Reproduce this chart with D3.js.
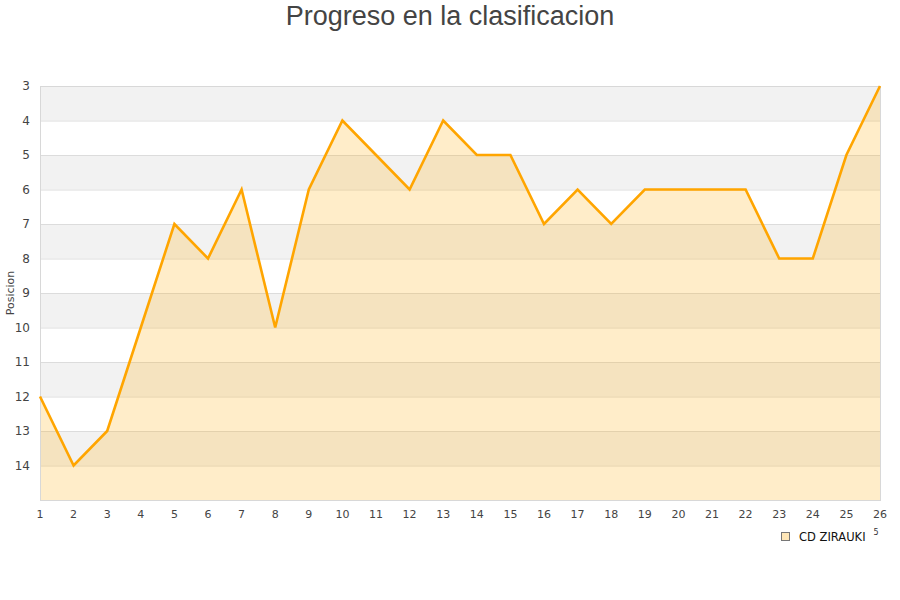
<!DOCTYPE html>
<html>
<head>
<meta charset="utf-8">
<script src="https://cdn.jsdelivr.net/npm/d3@7"></script>
<style>
  body { margin: 0; background: #fff; }
  svg { font-family: "DejaVu Sans", sans-serif; }
</style>
</head>
<body>
<svg id="chart" width="900" height="600"></svg>
<script>
// jornadas (x) and positions (y)
var jornadas = d3.range(1, 27);
var posiciones = [12, 14, 13, 10, 7, 8, 6, 10, 6, 4, 5, 6, 4, 5, 5, 7, 6, 7, 6, 6, 6, 6, 8, 8, 5, 3];
var yTicks = [3, 4, 5, 6, 7, 8, 9, 10, 11, 12, 13, 14];
var yDomain = [3, 15];
var teamName = 'CD ZIRAUKI';

var svg = d3.select('#chart');
var margin = { top: 86, right: 20, bottom: 100, left: 40 };
var width = 900 - margin.left - margin.right;
var height = 600 - margin.top - margin.bottom;

var x = d3.scaleLinear().domain([1, 26]).range([0, width]);
var y = d3.scaleLinear().domain(yDomain).range([0, height]);

svg.append('text')
  .attr('x', 450).attr('y', 25)
  .attr('text-anchor', 'middle')
  .style('font-family', '"Liberation Sans", Arial, sans-serif')
  .style('font-size', '27px')
  .style('fill', '#444')
  .text('Progreso en la clasificacion');

var g = svg.append('g').attr('transform', 'translate(' + margin.left + ',' + margin.top + ')');

// alternating bands
var bands = d3.range(yDomain[0], yDomain[1]);
g.selectAll('.band').data(bands).enter().append('rect')
  .attr('x', 0).attr('width', width)
  .attr('y', function (d) { return y(d); })
  .attr('height', function (d) { return y(d + 1) - y(d); })
  .attr('fill', function (d, i) { return i % 2 === 0 ? '#f2f2f2' : '#ffffff'; });

// grid lines
g.selectAll('.grid').data(yTicks.slice(1)).enter().append('line')
  .attr('x1', 0).attr('x2', width)
  .attr('y1', function (d) { return y(d) + 0.5; })
  .attr('y2', function (d) { return y(d) + 0.5; })
  .attr('stroke', '#dcdcdc');

var pts = jornadas.map(function (j, i) { return [j, posiciones[i]]; });

var area = d3.area()
  .x(function (d) { return x(d[0]); })
  .y0(y(yDomain[1]))
  .y1(function (d) { return y(d[1]); });

g.append('path').datum(pts)
  .attr('d', area)
  .attr('fill', 'rgba(255,175,10,0.22)');

// plot border
g.append('rect')
  .attr('x', 0.5).attr('y', 0.5)
  .attr('width', width).attr('height', height)
  .attr('fill', 'none').attr('stroke', '#d8d8d8');

var line = d3.line()
  .x(function (d) { return x(d[0]); })
  .y(function (d) { return y(d[1]); });

g.append('path').datum(pts)
  .attr('d', line)
  .attr('fill', 'none')
  .attr('stroke', '#ffa500')
  .attr('stroke-width', 2.6)
  .attr('stroke-linejoin', 'miter');

// y tick labels
g.selectAll('.ylab').data(yTicks).enter().append('text')
  .attr('x', -10)
  .attr('y', function (d) { return y(d) + 4; })
  .attr('text-anchor', 'end')
  .style('font-size', '12px')
  .style('fill', '#444')
  .text(function (d) { return d; });

// x tick labels
g.selectAll('.xlab').data(jornadas).enter().append('text')
  .attr('x', function (d) { return x(d); })
  .attr('y', height + 18)
  .attr('text-anchor', 'middle')
  .style('font-size', '11px')
  .style('fill', '#444')
  .text(function (d) { return d; });

// y axis title
svg.append('text')
  .attr('transform', 'translate(14,' + (margin.top + height / 2) + ') rotate(-90)')
  .attr('text-anchor', 'middle')
  .style('font-size', '11px')
  .style('fill', '#444')
  .text('Posicion');

// legend
var lg = svg.append('g').attr('transform', 'translate(781,532)');
lg.append('rect')
  .attr('x', 0.5).attr('y', 0.5).attr('width', 8).attr('height', 8)
  .attr('fill', '#ffe7b8').attr('stroke', '#777');
lg.append('text')
  .attr('x', 18).attr('y', 9)
  .style('font-size', '11.5px')
  .style('fill', '#111')
  .text(teamName);
svg.append('text')
  .attr('x', 876).attr('y', 535)
  .attr('text-anchor', 'middle')
  .style('font-size', '8px')
  .style('fill', '#333')
  .text('5');
</script>
</body>
</html>
